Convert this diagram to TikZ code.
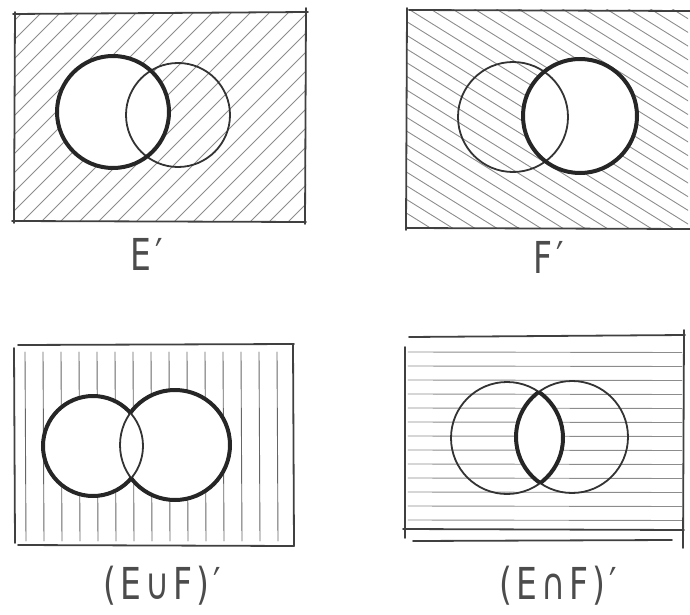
\documentclass[tikz,border=0pt]{standalone}
\usepackage{fontspec}
\setmainfont{DejaVu Sans}
\begin{document}
\begin{tikzpicture}[x=1pt,y=-1pt,
  frame/.style={line width=1.8pt, draw=black!75, line cap=round},
  hatch/.style={line width=0.9pt, draw=black!45, line cap=round},
  thinc/.style={line width=1.8pt, draw=black!80},
  boldc/.style={line width=4pt, draw=black!85},
  lbl/.style={font=\fontsize{44}{46}\selectfont\addfontfeature{LetterSpace=12}, text=black!70, inner sep=0pt}]
\useasboundingbox (0,0) rectangle (690,615);

% ---------- Panel 1: E' ----------
\begin{scope}
  \clip (15,14) rectangle (306,221);
  \foreach \i in {-210,-191,...,310} \draw[hatch] (\i,226) -- ++(216,-216);
\end{scope}
\fill[white] (113,112) circle (56);
\draw[thinc] (178,115) circle (52);
\draw[boldc] (113,112) circle (56);
\draw[frame] (13,14) -- (308,12);
\draw[frame] (15,12) -- (14,223);
\draw[frame] (12,221) -- (306,222);
\draw[frame] (306,8) -- (305,224);
\node[lbl] (l1) at (147,254) {\scalebox{0.75}[1]{E′}};

% ---------- Panel 2: F' ----------
\begin{scope}
  \clip (407,10) rectangle (688,228);
  \foreach \i in {-60,-38,...,690} \draw[hatch] (\i,5) -- ++(450,280);
\end{scope}
\fill[white] (580,116) circle (57);
\draw[thinc] (513,117) circle (55);
\draw[boldc] (580,116) circle (57);
\draw[frame] (409,10) -- (690,11);
\draw[frame] (407,8) -- (406,230);
\draw[frame] (406,228) -- (690,229);
\node[lbl] (l2) at (549,257) {\scalebox{0.75}[1]{F′}};

% ---------- Panel 3: (E u F)' ----------
\begin{scope}
  \clip (15,345) rectangle (293,545);
  \foreach \x in {25,43,...,290} \draw[hatch, draw=black!60] (\x,352) -- (\x+1,541);
\end{scope}
\fill[white] (93,446) circle (50);
\fill[white] (175,445) circle (55);
\draw[thinc] (93,446) circle (50);
\draw[thinc] (175,445) circle (55);
\begin{scope}[even odd rule]
  \clip (0,330) rectangle (320,615) (175,445) circle (55);
  \draw[boldc] (93,446) circle (50);
\end{scope}
\begin{scope}[even odd rule]
  \clip (0,330) rectangle (320,615) (93,446) circle (50);
  \draw[boldc] (175,445) circle (55);
\end{scope}
\draw[frame] (18,345) -- (294,344);
\draw[frame] (14,348) -- (15,543);
\draw[frame] (18,545) -- (294,546);
\draw[frame] (293,344) -- (294,546);
\node[lbl] (l3) at (162,586) {\scalebox{0.75}[1]{(E∪F)′}};

% ---------- Panel 4: (E n F)' ----------
\begin{scope}
  \clip (405,335) rectangle (684,529);
  \foreach \y in {352,366,...,522} \draw[hatch] (408,\y) -- (682,\y+0.5);
\end{scope}
\begin{scope}
  \clip (507,438) circle (56);
  \fill[white] (572,437) circle (56);
\end{scope}
\draw[thinc] (507,438) circle (56);
\draw[thinc] (572,437) circle (56);
\begin{scope}
  \clip (572,437) circle (56);
  \draw[boldc] (507,438) circle (56);
\end{scope}
\begin{scope}
  \clip (507,438) circle (56);
  \draw[boldc] (572,437) circle (56);
\end{scope}
\draw[frame] (409,337) -- (685,335);
\draw[frame] (405,347) -- (405,538);
\draw[frame] (684,330) -- (683,548);
\draw[frame] (403,529) -- (684,530);
\draw[frame] (413,541) -- (672,540);
\node[lbl] (l4) at (558,586) {\scalebox{0.75}[1]{(E∩F)′}};
\end{tikzpicture}
\end{document}
